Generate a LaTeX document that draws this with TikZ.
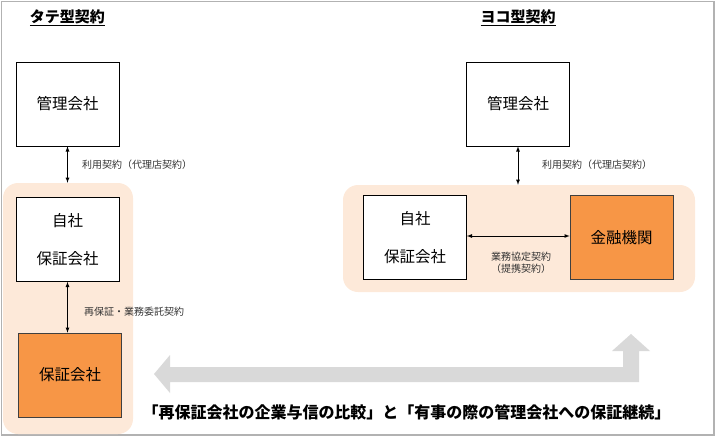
\documentclass[tikz,border=0pt]{standalone}
\usepackage{fontspec}
\setmainfont{Noto Sans CJK JP}
\usetikzlibrary{arrows}

\definecolor{peach}{HTML}{FDE9D9}
\definecolor{orangebox}{HTML}{F79646}
\definecolor{arrowgray}{HTML}{D9D9D9}

\begin{document}
\begin{tikzpicture}[x=1pt, y=-1pt, >=latex,
  box/.style={draw, line width=0.6pt, fill=white, minimum width=103pt, minimum height=84pt, inner sep=0pt, align=center, font=\fontsize{15.5}{38}\selectfont},
  orangebox/.style={box, fill=orangebox, draw=black!75},
  group/.style={fill=peach, rounded corners=15pt, inner sep=0pt},
  contract/.style={font=\fontsize{10}{12}\selectfont, text=black!80, inner sep=0pt, align=center},
  heading/.style={font=\fontsize{15}{16}\selectfont\bfseries}]
\useasboundingbox (0,0) rectangle (718,439);
\draw [black!30, line width=1.2pt] (1.5,1.5) rectangle (714,435);

% peach regions
\node [group, minimum width=130pt, minimum height=251pt] (groupL) at (68,308.5) {};
\node [group, minimum width=352pt, minimum height=107pt] (groupR) at (519,238.5) {};

\node [heading] (titleL) at (67.5,18) {\underline{タテ型契約}};
\node [heading] (titleR) at (518,18) {\underline{ヨコ型契約}};

% left side
\node [box] (kanriL) at (67.5,104) {管理会社};
\node [box] (jishaL) at (67.5,239.5) {自社\\保証会社};
\node [orangebox] (hoshoL) at (70,375) {保証会社};

\draw [<->, line width=0.8pt] (kanriL.south) -- (kanriL.south |- groupL.north);
\draw [<->, line width=0.8pt] (jishaL.south) -- (jishaL.south |- hoshoL.north);
\node [contract, anchor=west] (riyouL) at (82,165) {利用契約（代理店契約）};
\node [contract, anchor=west] (saihosho) at (84,312) {再保証・業務委託契約};

% right side
\node [box] (kanriR) at (518,104) {管理会社};
\node [box] (jishaR) at (415,237.5) {自社\\保証会社};
\node [orangebox] (kinyu) at (621.5,237.5) {金融機関};

\draw [<->, line width=0.8pt] (kanriR.south) -- (kanriR.south |- groupR.north);
\draw [<->, line width=0.8pt] (jishaR.east |- 0,236) -- (kinyu.west |- 0,236);
\node [contract, anchor=west] (riyouR) at (542,165) {利用契約（代理店契約）};
\node [contract] (gyoumu) at (521,262.5) {業務協定契約\\（提携契約）};

% big gray arrow
\fill [arrowgray] (154,374) -- (170,355) -- (170,367) -- (623,367) -- (623,351) -- (612,351)
  -- (631,334) -- (650,351) -- (639,351) -- (639,382) -- (170,382) -- (170,393) -- cycle;
\node [font=\fontsize{16}{18}\selectfont\bfseries] (summary) at (406.5,412)
  {「再保証会社の企業与信の比較」と「有事の際の管理会社への保証継続」};
\end{tikzpicture}
\end{document}
